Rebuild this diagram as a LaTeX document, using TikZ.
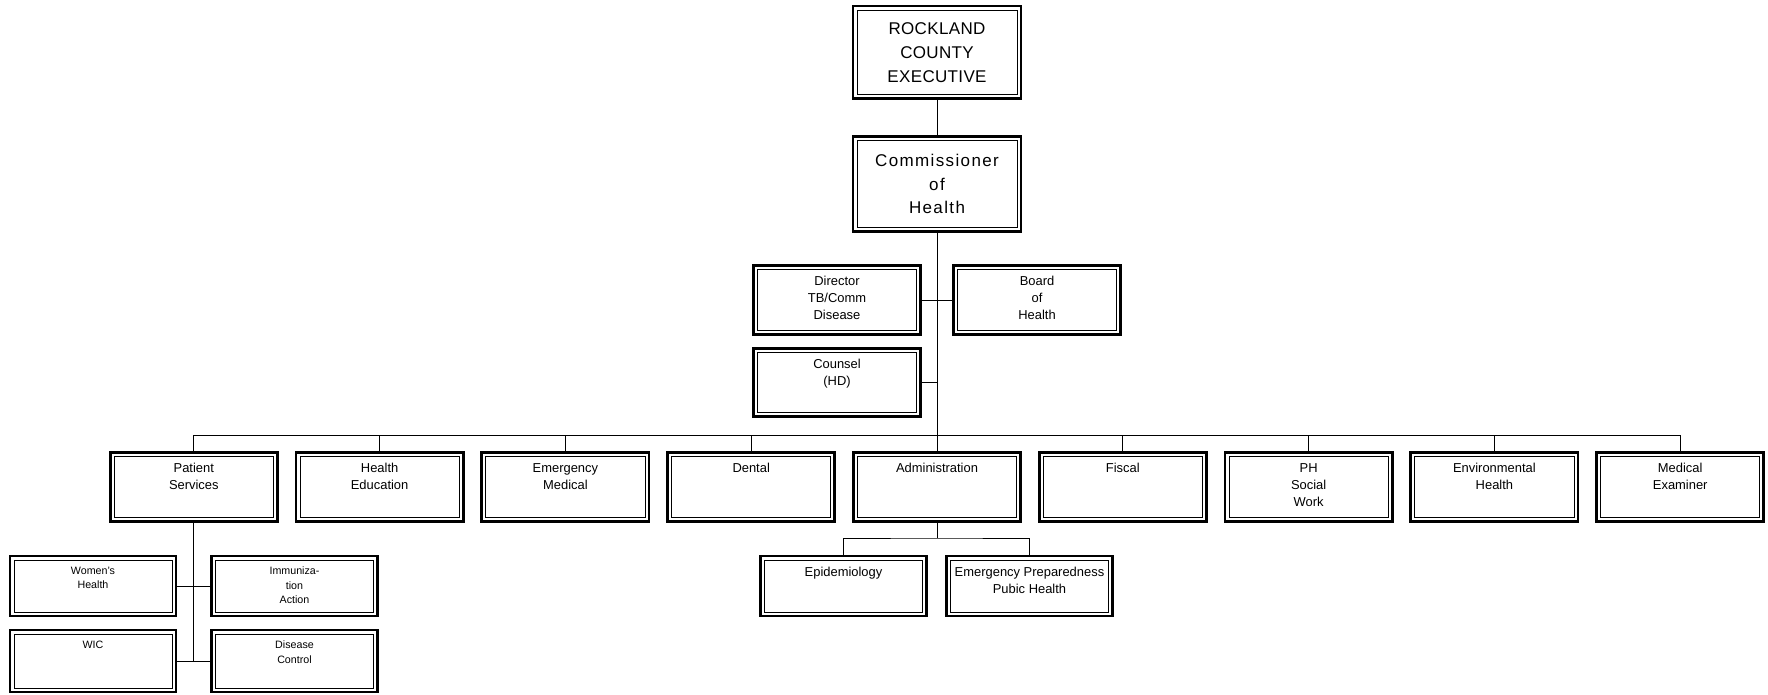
\documentclass[tikz,border=0pt]{standalone}
\usepackage{fontspec}
\setmainfont{Liberation Sans}
\newfontfamily\execfont[LetterSpace=2]{Liberation Sans}
\newfontfamily\commfont[LetterSpace=8]{Liberation Sans}
\usepackage{tikz}

\begin{document}
\begin{tikzpicture}[
  unit/.style={draw,line width=2pt,inner sep=0pt,minimum width=4.18cm,minimum height=1.73cm,
    path picture={\draw[line width=0.6pt] ([shift={(2.8pt,2.8pt)}]path picture bounding box.south west)
      rectangle ([shift={(-2.8pt,-2.8pt)}]path picture bounding box.north east);}},
  head/.style={unit,minimum width=4.2cm,minimum height=2.32cm,align=center},
  sub/.style={unit,minimum width=4.15cm,minimum height=1.5cm},
  boxtext/.style={anchor=north,inner sep=0pt,yshift=-8.5pt,align=center,font=\fontsize{9.2}{12.2}\selectfont},
  smalltext/.style={boxtext,font=\fontsize{7.6}{10.3}\selectfont},
  link/.style={line width=0.7pt}]
\useasboundingbox (0,0) rectangle (44.2,17.35);
% top of the chart
\node[head,font=\execfont\fontsize{12.1}{17}\selectfont] (exec) at (23.425,16.04) {ROCKLAND\\COUNTY\\EXECUTIVE};
\node[head,minimum height=2.38cm,font=\commfont\fontsize{12.1}{17}\selectfont] (comm) at (23.425,12.75) {Commissioner\\of\\Health};
\node[unit,label={[boxtext]north:Director\\TB/Comm\\Disease}] (dir) at (20.925,9.85) {};
\node[unit,label={[boxtext]north:Board\\of\\Health}] (board) at (25.925,9.85) {};
\node[unit,minimum height=1.7cm,label={[boxtext]north:Counsel\\(HD)}] (coun) at (20.925,7.79) {};
% divisions
\node[unit,label={[boxtext]north:Patient\\Services}] (ps) at (4.845,5.175) {};
\node[unit,label={[boxtext]north:Health\\Education}] (he) at (9.49,5.175) {};
\node[unit,label={[boxtext]north:Emergency\\Medical}] (em) at (14.135,5.175) {};
\node[unit,label={[boxtext]north:Dental}] (den) at (18.78,5.175) {};
\node[unit,label={[boxtext]north:Administration}] (adm) at (23.425,5.175) {};
\node[unit,label={[boxtext]north:Fiscal}] (fis) at (28.07,5.175) {};
\node[unit,label={[boxtext]north:PH\\Social\\Work}] (sw) at (32.715,5.175) {};
\node[unit,label={[boxtext]north:Environmental\\Health}] (env) at (37.36,5.175) {};
\node[unit,label={[boxtext]north:Medical\\Examiner}] (mex) at (42.005,5.175) {};
% units under patient services
\node[sub,label={[smalltext]north:Women's\\Health}] (wh) at (2.325,2.7) {};
\node[sub,label={[smalltext]north:Immuniza-\\tion\\Action}] (imm) at (7.3625,2.7) {};
\node[sub,minimum height=1.55cm,label={[smalltext]north:WIC}] (wic) at (2.325,0.825) {};
\node[sub,minimum height=1.55cm,label={[smalltext]north:Disease\\Control}] (dc) at (7.3625,0.825) {};
% units under administration
\node[sub,label={[boxtext]north:Epidemiology}] (epi) at (21.0875,2.7) {};
\node[sub,label={[boxtext]north:Emergency Preparedness\\Pubic Health}] (eph) at (25.7375,2.7) {};
\coordinate (bus) at (23.425,6.475);
\coordinate (admbus) at (23.425,3.9);
\draw[link] (exec)--(comm);
\draw[link] (comm.south)--(bus);
\draw[link] (dir.east)--(board.west);
\draw[link] (coun.east)--(coun.east -| comm.south);
\draw[link] (ps.north |- bus)--(mex.north |- bus);
\foreach \n in {ps,he,em,den,adm,fis,sw,env,mex}
  \draw[link] (\n.north)--(\n.north |- bus);
\draw[link] (adm.south)--(admbus);
\draw[link] (epi.north) |- (admbus) -| (eph.north);
\draw[link] (ps.south)--(ps.south |- wic.east);
\draw[link] (wh.east)--(imm.west);
\draw[link] (wic.east)--(dc.west);
\end{tikzpicture}
\end{document}
